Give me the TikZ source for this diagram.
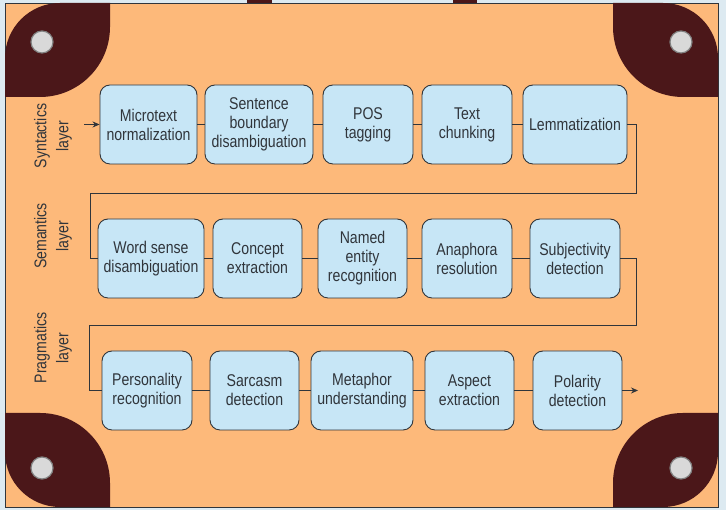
\documentclass[tikz,border=0pt]{standalone}
\usepackage{fontspec}
\setmainfont{Liberation Sans}[FakeStretch=0.83]
\usetikzlibrary{arrows.meta}
\definecolor{sky}{HTML}{DDEAF1}
\definecolor{board}{HTML}{FDB97A}
\definecolor{wine}{HTML}{4B1719}
\definecolor{stage}{HTML}{C7E6F6}
\definecolor{ink}{HTML}{30353B}

\begin{document}
\begin{tikzpicture}[x=1pt,y=1pt,
    stagebox/.style={draw=ink,line width=0.9pt,fill=stage,rounded corners=10pt,
      minimum height=79pt,inner sep=2pt,align=center,text=ink,
      font=\fontsize{17}{19}\selectfont},
    layername/.style={rotate=90,align=center,text=ink,font=\fontsize{17}{22}\selectfont},
    link/.style={draw=ink,line width=0.8pt},
    hole/.style={fill=gray!30,draw=gray,line width=1.2pt}
   ]
  \useasboundingbox[fill=sky] (0,0) rectangle (726,510);
  % tabs and board
  \fill[wine] (247,503) rectangle (272,510);
  \fill[wine] (453,503) rectangle (477,510);
  \filldraw[fill=board,draw=ink,line width=0.8pt] (5,3) rectangle (718,507);
  % corner pieces
  \foreach \sx/\sy in {1/1,-1/1,1/-1,-1/-1} {
    \begin{scope}[shift={(361.5,255)},xscale=\sx,yscale=\sy]
      \fill[wine] (-356.5,158) -- (-356.5,197) arc[start angle=180,end angle=90,radius=55]
        -- (-251.5,252) -- (-251.5,228) arc[start angle=0,end angle=-90,radius=70] -- cycle;
      \filldraw[hole] (-319.5,213) circle (11);
    \end{scope}
  }
  % layers
  \node[layername] (syn) at (53,374) {Syntactics\\layer};
  \node[layername] (sem) at (53,274) {Semantics\\layer};
  \node[layername] (prag) at (53,162) {Pragmatics\\layer};
  % syntactics
  \node[stagebox,minimum width=97pt] (micro) at (148.5,385.5) {Microtext\\normalization};
  \node[stagebox,minimum width=108pt] (sbd) at (259,385.5) {Sentence\\boundary\\disambiguation};
  \node[stagebox,minimum width=90pt] (pos) at (368,385.5) {POS\\tagging};
  \node[stagebox,minimum width=90pt] (chunk) at (467,385.5) {Text\\chunking};
  \node[stagebox,minimum width=104pt] (lemma) at (575,385.5) {Lemmatization};
  % semantics
  \node[stagebox,minimum width=106pt] (wsd) at (151,251.5) {Word sense\\disambiguation};
  \node[stagebox,minimum width=89pt] (concept) at (257.5,251.5) {Concept\\extraction};
  \node[stagebox,minimum width=89pt] (ner) at (362.5,251.5) {Named\\entity\\recognition};
  \node[stagebox,minimum width=90pt] (anaphora) at (467,251.5) {Anaphora\\resolution};
  \node[stagebox,minimum width=90pt] (subj) at (575,251.5) {Subjectivity\\detection};
  % pragmatics
  \node[stagebox,minimum width=90pt] (person) at (147,119.5) {Personality\\recognition};
  \node[stagebox,minimum width=89pt] (sarcasm) at (254.5,119.5) {Sarcasm\\detection};
  \node[stagebox,minimum width=102pt] (metaphor) at (362,119.5) {Metaphor\\understanding};
  \node[stagebox,minimum width=89pt] (aspect) at (469.5,119.5) {Aspect\\extraction};
  \node[stagebox,minimum width=89pt] (polarity) at (577.5,119.5) {Polarity\\detection};
  % links
  \coordinate (entry) at (84,385.5);
  \coordinate (exit) at (638,119.5);
  \coordinate (bendA) at (636,317);
  \coordinate (bendB) at (90,317);
  \coordinate (bendC) at (636,185);
  \coordinate (bendD) at (89,185);
  \draw[link,-{Stealth[length=7pt,width=6pt]}] (entry) -- (micro);
  \draw[link] (micro) -- (sbd) -- (pos) -- (chunk) -- (lemma);
  \draw[link] (lemma.east) -| (bendA) -- (bendB) |- (wsd.west);
  \draw[link] (wsd) -- (concept) -- (ner) -- (anaphora) -- (subj);
  \draw[link] (subj.east) -| (bendC) -- (bendD) |- (person.west);
  \draw[link] (person) -- (sarcasm) -- (metaphor) -- (aspect) -- (polarity);
  \draw[link,-{Stealth[length=7pt,width=6pt]}] (polarity) -- (exit);
\end{tikzpicture}
\end{document}
